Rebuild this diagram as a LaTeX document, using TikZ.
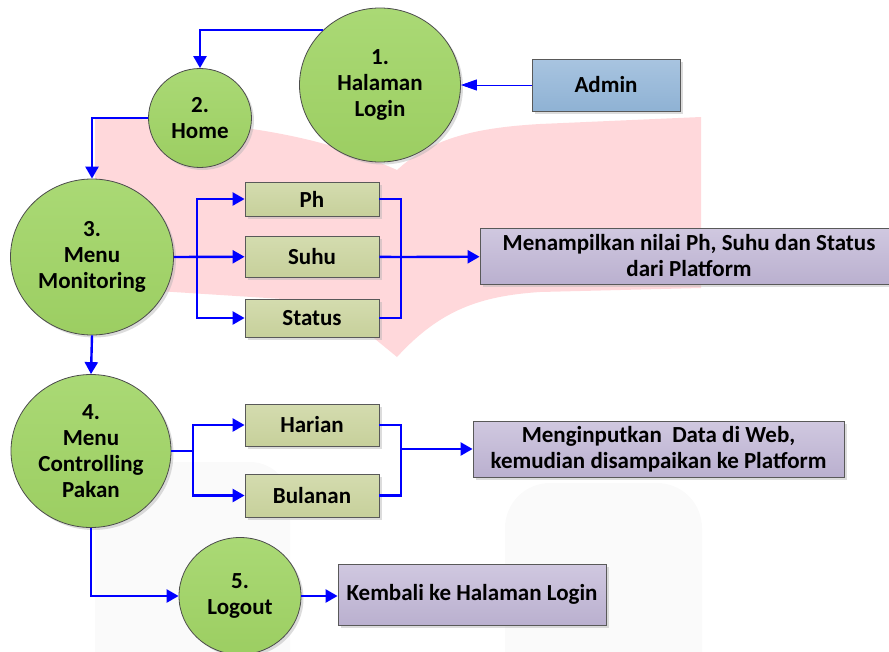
\documentclass[tikz,border=0pt]{standalone}
\usepackage{fontspec}
\setmainfont{Carlito}
\usetikzlibrary{shapes.geometric,arrows.meta,shadows}

\definecolor{proctop}{RGB}{170,217,117}
\definecolor{procbot}{RGB}{156,206,98}
\definecolor{subtop}{RGB}{212,220,175}
\definecolor{subbot}{RGB}{199,208,155}
\definecolor{outtop}{RGB}{208,200,224}
\definecolor{outbot}{RGB}{186,176,207}
\definecolor{admtop}{RGB}{168,196,224}
\definecolor{admbot}{RGB}{143,178,212}
\definecolor{wmpink}{RGB}{255,216,219}
\definecolor{wmgray}{RGB}{250,250,250}

\tikzset{
  shade/.style={drop shadow={shadow xshift=2.5pt,shadow yshift=-2.5pt,fill=black!30,opacity=0.45}},
  proc/.style={ellipse,draw=black!70,line width=0.8pt,inner sep=0pt,align=center,
    top color=proctop,bottom color=procbot,shade},
  subbox/.style={rectangle,draw=black!65,line width=0.8pt,minimum width=134pt,
    top color=subtop,bottom color=subbot,shade},
  outbox/.style={rectangle,draw=black!65,line width=0.8pt,align=center,
    top color=outtop,bottom color=outbot,shade},
  actor/.style={rectangle,draw=black!65,line width=0.8pt,
    top color=admtop,bottom color=admbot,shade},
  link/.style={draw=blue,line width=2.4pt},
  flow/.style={link,-{Triangle[length=12pt,width=13pt]}},
  flowthin/.style={draw=blue,line width=1pt,-{Triangle[length=16pt,width=11pt]}}
}

\begin{document}
\begin{tikzpicture}[x=1pt,y=-1pt,font=\fontsize{23}{26}\selectfont\bfseries]
\useasboundingbox (0,0) rectangle (889,651);

% watermark
\fill[wmpink] (95,118) .. controls (250,120) and (330,140) .. (397,170)
  .. controls (430,140) and (470,128) .. (540,124) -- (701,117) -- (701,288)
  -- (540,292) .. controls (480,296) and (440,310) .. (397,357)
  -- (330,302) -- (95,287) -- cycle;
\fill[wmgray,rounded corners=40pt] (95,700) -- (95,462) -- (290,462) -- (290,700) -- cycle;
\fill[wmgray,rounded corners=45pt] (505,700) -- (505,483) -- (702,483) -- (702,700) -- cycle;

% processes
\node[proc,minimum width=161pt,minimum height=154pt] (login) at (380,85) {1.\\Halaman\\Login};
\node[proc,minimum width=103pt,minimum height=99pt] (home) at (200,118) {2.\\Home};
\node[proc,minimum width=163pt,minimum height=156pt] (mon) at (92,257) {3.\\Menu\\Monitoring};
\node[proc,minimum width=160pt,minimum height=153pt] (ctrl) at (91,451) {4.\\Menu\\Controlling\\Pakan};
\node[proc,minimum width=122pt,minimum height=117pt] (logout) at (240,596) {5.\\Logout};

% boxes
\node[actor,minimum width=148pt,minimum height=52pt] (admin) at (606,85) {Admin};
\node[subbox,minimum height=34pt] (ph) at (312,199) {Ph};
\node[subbox,minimum height=41pt] (suhu) at (312,256.5) {Suhu};
\node[subbox,minimum height=38pt] (status) at (312,318) {Status};
\node[subbox,minimum height=42pt] (harian) at (312,425) {Harian};
\node[subbox,minimum height=43pt] (bulanan) at (312,495.5) {Bulanan};
\node[outbox,minimum width=418pt,minimum height=56pt] (tampil) at (689,256)
  {Menampilkan nilai Ph, Suhu dan Status\\dari Platform};
\node[outbox,minimum width=371pt,minimum height=56pt] (input) at (658.5,449)
  {Menginputkan\ \ Data di Web,\\kemudian disampaikan ke Platform};
\node[outbox,minimum width=268pt,minimum height=61pt] (kembali) at (472,594.5)
  {Kembali ke Halaman Login};

% junctions
\coordinate (jm) at (197,257);
\coordinate (jr) at (401,257);
\coordinate (jc) at (193,451);
\coordinate (jh) at (401,449);

% main flow
\draw[flowthin] (admin) -- (login);
\draw[flow] (login.north west) -| (home);
\draw[flow] (home) -| (mon);
\draw[flow] (mon.south) -- (ctrl.north);
\draw[flow] (ctrl) |- (logout);
\draw[flow] (logout.east) -- (logout.east -| kembali.west);

% monitoring
\draw[flow] (mon.east) -- (suhu);
\draw[flow] (jm) |- (ph);
\draw[flow] (jm) |- (status);
\draw[link] (ph) -| (jr);
\draw[link] (status) -| (jr);
\draw[link] (suhu) -- (jr);
\draw[flow] (jr) -- (tampil);

% controlling
\draw[link] (ctrl) -- (jc);
\draw[flow] (jc) |- (harian);
\draw[flow] (jc) |- (bulanan);
\draw[link] (harian) -| (jh);
\draw[link] (bulanan) -| (jh);
\draw[flow] (jh) -- (input);
\end{tikzpicture}
\end{document}
